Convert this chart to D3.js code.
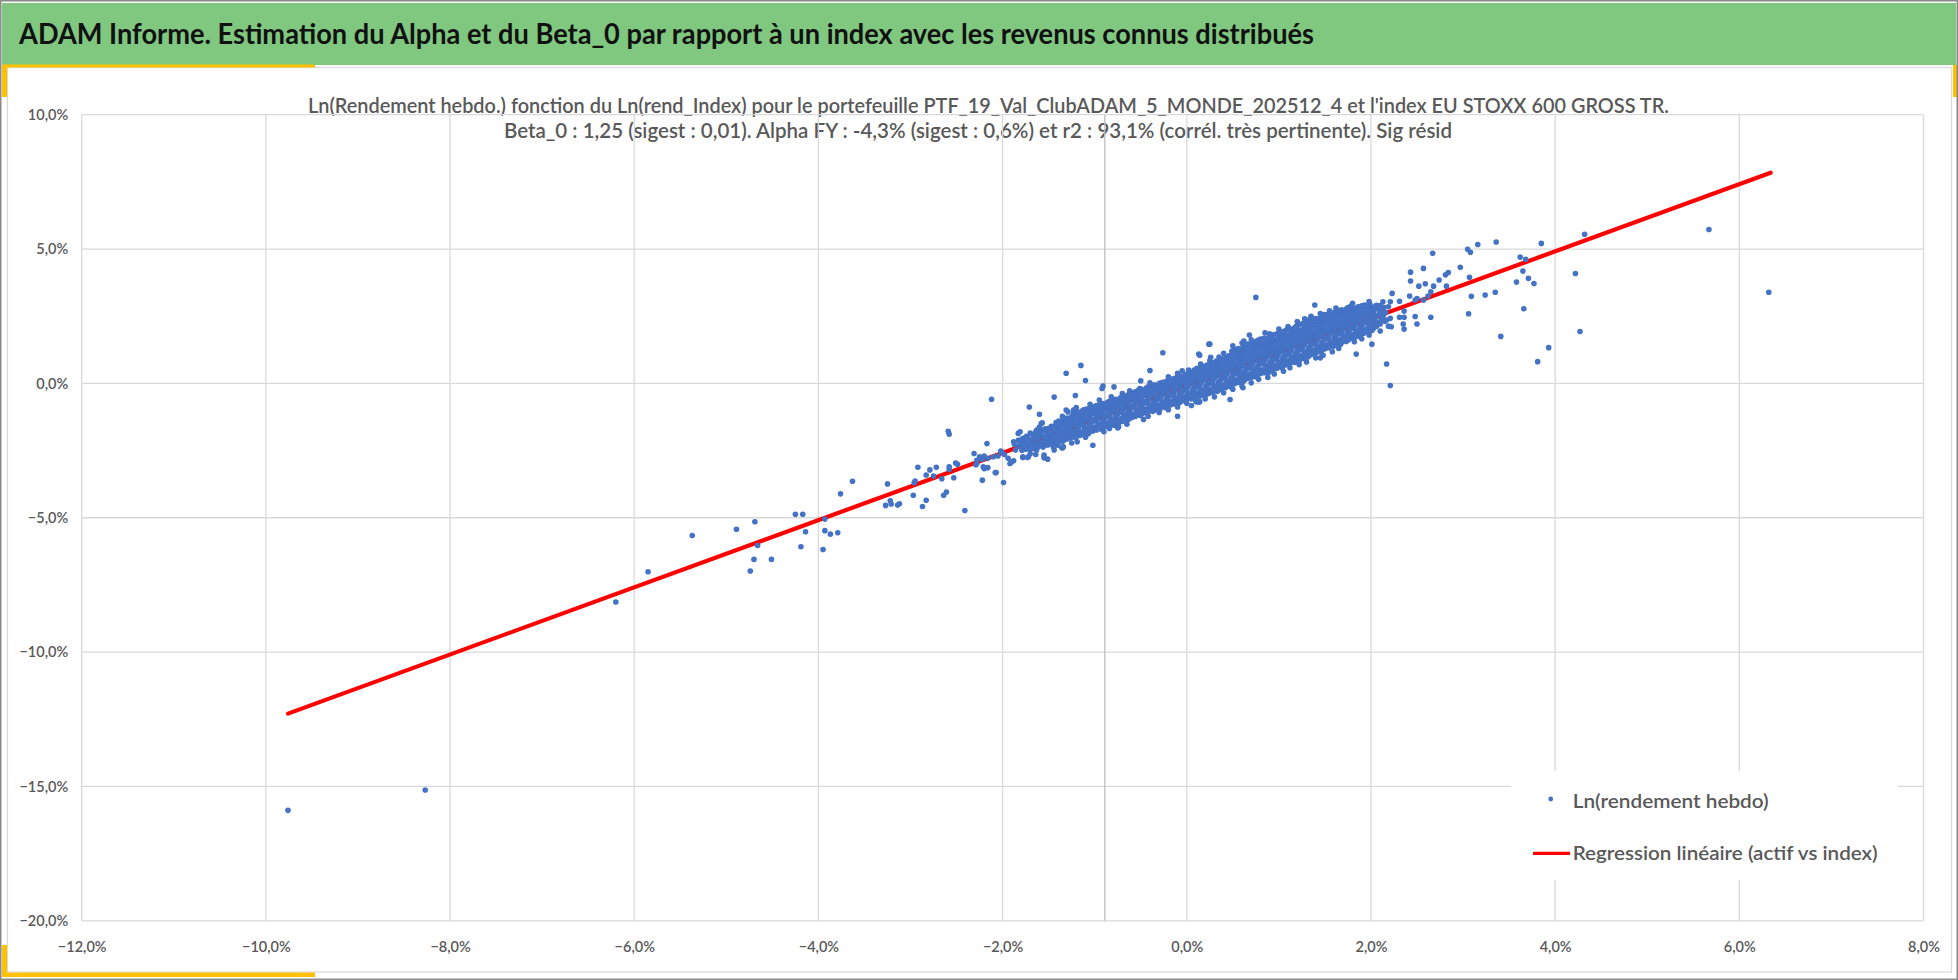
<!DOCTYPE html>
<html>
<head>
<meta charset="utf-8">
<script src="https://cdn.jsdelivr.net/npm/d3@7"></script>
<style>
  body { margin: 0; background: #fff; }
  svg { display: block; font-family: Lato, "Open Sans", sans-serif; }
</style>
</head>
<body>
<div id="chart"></div>
<script>
// Texte
const pageTitle = "ADAM Informe. Estimation du Alpha et du Beta_0 par rapport à un index avec les revenus connus distribués";
const chartTitle1 = "Ln(Rendement hebdo.) fonction du Ln(rend_Index) pour le portefeuille PTF_19_Val_ClubADAM_5_MONDE_202512_4 et l'index EU STOXX 600 GROSS TR.";
const chartTitle2 = "Beta_0 : 1,25 (sigest : 0,01). Alpha FY : -4,3% (sigest : 0,6%) et r2 : 93,1% (corrél. très pertinente). Sig résid";
const legendLabels = ["Ln(rendement hebdo)", "Regression linéaire (actif vs index)"];

// Axes (en %)
const xTicks = [-12, -10, -8, -6, -4, -2, 0, 2, 4, 6, 8];
const yTicks = [-20, -15, -10, -5, 0, 5, 10];
const axisCrossX = -0.89; // ligne de l'axe vertical

// Droite de régression (extrémités)
const regressionX = [-9.76, 6.34];
const regressionY = [-12.29, 7.84];

// Points isolés [ln(rend_index) %, ln(rend hebdo) %]
const outlierPoints = [
  [-9.76,-15.89],[-8.27,-15.13],
  [-6.20,-8.14],[-5.85,-7.01],[-5.37,-5.66],[-4.89,-5.43],[-4.69,-5.15],[-4.66,-6.03],[-4.70,-6.55],[-4.74,-6.98],
  [-4.51,-6.55],[-4.25,-4.87],[-4.17,-4.87],[-4.14,-5.52],[-4.19,-6.08],[-3.93,-5.05],[-3.93,-5.48],[-3.87,-5.61],
  [-3.79,-5.56],[-3.95,-6.18],[-3.76,-4.11],[-3.63,-3.64],[-3.25,-3.74],[-3.27,-4.54],[-3.22,-4.37],[-3.21,-4.49],
  [-3.14,-4.53],[-3.12,-4.48],[-2.97,-4.16],[-2.96,-3.70],[-2.95,-3.63],[-2.92,-3.12],[-2.87,-4.58],[-2.83,-4.35],
  [-2.83,-3.41],[-2.79,-3.22],[-2.75,-3.45],[-2.72,-3.12],[-2.66,-3.55],[-2.64,-4.16],[-2.61,-4.04],[-2.58,-3.10],
  [-2.58,-3.20],[-2.53,-3.51],[-2.51,-2.96],[-2.49,-3.01],[-2.41,-4.73],[-2.29,-3.03],[-2.22,-3.60],[-2.20,-3.17],
  [-2.16,-3.13],[-2.08,-3.32],[-1.99,-3.69],[-1.92,-2.98],[-1.88,-2.88],
  [-2.12,-0.59],[-2.59,-1.78],[-2.58,-1.89],[-1.58,-1.49],[-2.17,-2.24],[-2.31,-2.61],[-2.25,-2.73],[-2.22,-2.82],
  [-2.20,-2.70],[-2.16,-2.79],[-2.10,-2.73],[-2.05,-2.70],[-2.02,-2.52],[-1.98,-2.65],[-1.94,-2.79],[-1.90,-2.92],
  [-2.28,-2.98],[-2.21,-3.10],[-2.17,-3.14],[-2.28,-2.86],[-2.07,-3.32],[-1.79,-2.07],[-1.78,-2.30],[-1.72,-2.24],
  [-1.67,-2.30],[-1.63,-2.48],[-1.78,-2.73],[-1.72,-2.73],[-1.64,-2.65],[-1.55,-2.77],[-1.60,-1.93],[-1.52,-2.03],
  [-1.49,-1.80],[-1.47,-2.11],[-1.45,-2.36],[-1.35,-2.40],[-1.38,-1.74],[-1.32,-1.68],[-1.29,-1.86],[-1.23,-1.80],
  [-1.27,-1.53],[-1.19,-1.62],[-1.31,-0.99],[-1.23,-0.99],[-1.30,-1.31],[-1.41,-1.99],[-1.40,-2.17],[-1.51,-2.17],
  [-1.31,0.38],[-1.15,0.67],[-1.10,0.11],[-1.44,-0.51],[-1.21,-0.45],[-1.71,-0.88],[-1.60,-1.15],[-0.91,-0.10],
  [-0.92,-0.19],[-0.79,-0.13],[-0.26,1.14],[-0.40,0.48],[-0.50,0.10],[0.13,1.09],[0.24,1.46],[0.26,0.97],
  [0.61,-0.16],[0.47,-0.60],[-0.10,-1.22],[-0.47,-1.34],[0.13,-0.70],[0.05,-0.82],[1.67,1.46],[1.84,1.09],
  [2.01,1.46],[2.17,0.72],[2.21,-0.08],[1.45,0.95],[1.51,1.34],[-1.02,-2.30],[-1.78,-2.76],[-1.73,-2.76],
  [-1.51,-2.82],[-1.55,-2.67],[-1.36,-2.38],[-1.44,-2.48],[-1.19,-2.17],[-1.83,-1.86],[-1.88,-2.17],[-2.01,-2.55],
  [-0.51,-0.19],[-1.57,-1.47],[-1.29,-1.06],[-0.74,-1.61],[-0.84,-1.68],[-1.34,-2.36],[-1.76,-2.17],[-1.63,-1.74],
  [-1.81,-1.80],[0.27,-0.31],[0.14,-0.68],
  [0.75,3.20],[0.25,1.46],[0.68,1.80],[1.39,2.92],[1.34,2.42],[1.84,2.73],[2.21,2.42],[1.53,1.39],
  [1.22,0.83],[1.00,0.77],[1.08,0.78],[0.88,0.37],[0.74,0.25],[0.59,0.31],[0.92,0.68],[0.14,1.05],
  [5.67,5.73],[6.32,3.39],[4.32,5.55],[4.22,4.09],[4.27,1.93],[3.93,1.33],[3.81,0.81],[3.85,5.21],
  [3.62,4.70],[3.68,4.62],[3.65,4.18],[3.71,3.91],[3.77,3.72],[3.58,3.77],[3.66,2.78],[3.41,1.75],
  [3.36,5.26],[3.16,5.17],[3.05,4.99],[3.08,4.88],[2.97,4.32],[3.07,3.95],[3.09,3.24],[3.24,3.29],
  [3.35,3.39],[3.06,2.59],[2.67,4.84],[2.57,4.28],[2.43,4.14],[2.43,3.81],[2.59,3.71],[2.52,3.62],
  [2.74,3.85],[2.81,4.04],[2.84,4.13],[2.82,3.62],[2.68,3.62],[2.65,3.41],[2.62,3.25],[2.42,3.25],
  [2.50,3.16],[2.48,3.10],[2.57,3.10],[2.31,3.06],[2.23,3.35],[2.21,3.04],[2.13,3.04],[2.19,2.85],
  [2.15,2.61],[2.36,2.69],[2.31,2.46],[2.36,2.46],[2.48,2.49],[2.65,2.46],[2.35,2.21],[2.50,2.21],
  [2.36,2.02],[2.17,2.36],[2.19,2.13],[2.22,2.11],[2.10,1.95]
];

// Nuage dense autour de la droite
const corePoints = [
  [-1.86,-2.48],[-1.87,-2.27],[-1.83,-2.12],
  [-1.79,-2.49],[-1.76,-2.36],[-1.80,-2.20],[-1.77,-2.03],
  [-1.70,-2.47],[-1.72,-2.30],[-1.69,-2.16],[-1.73,-2.01],[-1.70,-1.85],
  [-1.65,-2.43],[-1.62,-2.26],[-1.66,-2.12],[-1.63,-1.96],[-1.64,-1.81],
  [-1.56,-2.37],[-1.58,-2.21],[-1.55,-2.04],[-1.59,-1.89],[-1.57,-1.75],
  [-1.51,-2.29],[-1.49,-2.15],[-1.52,-1.99],[-1.48,-1.83],[-1.50,-1.67],
  [-1.44,-2.23],[-1.42,-2.05],[-1.45,-1.92],[-1.41,-1.76],[-1.43,-1.59],[-1.42,-1.46],
  [-1.35,-2.16],[-1.37,-1.98],[-1.34,-1.84],[-1.38,-1.66],[-1.36,-1.52],[-1.35,-1.38],
  [-1.30,-2.07],[-1.28,-1.93],[-1.31,-1.75],[-1.27,-1.61],[-1.29,-1.45],[-1.30,-1.29],
  [-1.21,-2.01],[-1.23,-1.87],[-1.20,-1.71],[-1.24,-1.53],[-1.22,-1.39],[-1.21,-1.23],[-1.23,-1.11],
  [-1.16,-1.94],[-1.14,-1.80],[-1.17,-1.62],[-1.13,-1.48],[-1.15,-1.32],[-1.16,-1.16],[-1.14,-1.03],
  [-1.07,-1.87],[-1.09,-1.69],[-1.06,-1.55],[-1.10,-1.37],[-1.08,-1.23],[-1.07,-1.06],[-1.09,-0.95],
  [-1.02,-1.77],[-1.00,-1.63],[-1.03,-1.45],[-0.99,-1.31],[-1.01,-1.13],[-1.02,-0.99],[-1.00,-0.86],
  [-0.93,-1.71],[-0.95,-1.53],[-0.92,-1.39],[-0.96,-1.21],[-0.94,-1.07],[-0.93,-0.90],[-0.95,-0.80],
  [-0.88,-1.61],[-0.86,-1.47],[-0.89,-1.29],[-0.85,-1.15],[-0.87,-0.97],[-0.88,-0.84],[-0.86,-0.70],
  [-0.79,-1.56],[-0.81,-1.38],[-0.78,-1.24],[-0.82,-1.06],[-0.80,-0.92],[-0.79,-0.74],[-0.81,-0.64],
  [-0.74,-1.46],[-0.72,-1.32],[-0.75,-1.14],[-0.71,-1.00],[-0.73,-0.82],[-0.74,-0.68],[-0.72,-0.54],
  [-0.65,-1.39],[-0.67,-1.21],[-0.64,-1.07],[-0.68,-0.89],[-0.66,-0.75],[-0.65,-0.57],[-0.67,-0.47],
  [-0.60,-1.28],[-0.58,-1.14],[-0.61,-0.96],[-0.57,-0.82],[-0.59,-0.64],[-0.60,-0.50],[-0.58,-0.35],
  [-0.51,-1.19],[-0.53,-1.02],[-0.50,-0.88],[-0.54,-0.70],[-0.52,-0.56],[-0.51,-0.39],[-0.53,-0.27],
  [-0.46,-1.09],[-0.44,-0.95],[-0.47,-0.77],[-0.43,-0.63],[-0.45,-0.45],[-0.46,-0.32],[-0.44,-0.17],
  [-0.37,-1.04],[-0.39,-0.86],[-0.36,-0.72],[-0.40,-0.54],[-0.38,-0.40],[-0.37,-0.22],[-0.39,-0.10],
  [-0.32,-0.95],[-0.30,-0.81],[-0.33,-0.63],[-0.29,-0.49],[-0.31,-0.31],[-0.32,-0.17],[-0.30,-0.01],
  [-0.23,-0.90],[-0.25,-0.72],[-0.22,-0.58],[-0.26,-0.40],[-0.24,-0.26],[-0.23,-0.08],[-0.25,0.05],
  [-0.18,-0.80],[-0.16,-0.66],[-0.19,-0.48],[-0.15,-0.34],[-0.17,-0.16],[-0.18,-0.02],[-0.16,0.15],
  [-0.09,-0.74],[-0.11,-0.56],[-0.08,-0.42],[-0.12,-0.24],[-0.10,-0.10],[-0.09,0.08],[-0.11,0.22],
  [-0.04,-0.64],[-0.02,-0.50],[-0.05,-0.32],[-0.01,-0.18],[-0.03,0.00],[-0.04,0.14],[-0.02,0.32],
  [0.05,-0.58],[0.03,-0.40],[0.06,-0.26],[0.02,-0.08],[0.04,0.06],[0.05,0.24],[0.03,0.38],
  [0.10,-0.50],[0.12,-0.36],[0.09,-0.18],[0.13,-0.04],[0.11,0.14],[0.10,0.28],[0.12,0.46],[0.11,0.56],
  [0.19,-0.46],[0.17,-0.28],[0.20,-0.14],[0.16,0.04],[0.18,0.18],[0.19,0.36],[0.17,0.50],[0.18,0.64],
  [0.24,-0.37],[0.26,-0.23],[0.23,-0.05],[0.27,0.09],[0.25,0.27],[0.24,0.41],[0.26,0.59],[0.25,0.71],
  [0.33,-0.30],[0.31,-0.12],[0.34,0.02],[0.30,0.20],[0.32,0.34],[0.33,0.52],[0.31,0.66],[0.32,0.83],
  [0.38,-0.19],[0.40,-0.05],[0.37,0.13],[0.41,0.27],[0.39,0.45],[0.38,0.59],[0.40,0.77],[0.39,0.92],
  [0.47,-0.12],[0.45,0.06],[0.48,0.20],[0.44,0.38],[0.46,0.52],[0.47,0.70],[0.45,0.84],[0.46,1.04],
  [0.52,-0.01],[0.54,0.13],[0.51,0.31],[0.55,0.45],[0.53,0.63],[0.52,0.77],[0.54,0.95],[0.53,1.11],[0.52,1.27],
  [0.61,0.07],[0.59,0.25],[0.62,0.39],[0.58,0.57],[0.60,0.71],[0.61,0.89],[0.59,1.03],[0.60,1.21],[0.61,1.34],
  [0.66,0.19],[0.68,0.33],[0.65,0.51],[0.69,0.65],[0.67,0.83],[0.66,0.97],[0.68,1.15],[0.67,1.29],[0.66,1.46],
  [0.75,0.27],[0.73,0.45],[0.76,0.59],[0.72,0.77],[0.74,0.91],[0.75,1.09],[0.73,1.23],[0.74,1.41],[0.75,1.55],
  [0.80,0.37],[0.82,0.51],[0.79,0.69],[0.83,0.83],[0.81,1.01],[0.80,1.15],[0.82,1.33],[0.81,1.47],[0.80,1.65],
  [0.89,0.42],[0.87,0.60],[0.90,0.74],[0.86,0.92],[0.88,1.06],[0.89,1.24],[0.87,1.38],[0.88,1.56],[0.89,1.70],
  [0.94,0.52],[0.96,0.66],[0.93,0.84],[0.97,0.98],[0.95,1.16],[0.94,1.30],[0.96,1.48],[0.95,1.62],[0.94,1.81],
  [1.03,0.59],[1.01,0.77],[1.04,0.91],[1.00,1.09],[1.02,1.23],[1.03,1.41],[1.01,1.55],[1.02,1.73],[1.03,1.88],
  [1.08,0.70],[1.10,0.84],[1.07,1.02],[1.11,1.16],[1.09,1.34],[1.08,1.48],[1.10,1.66],[1.09,1.80],[1.08,1.99],
  [1.17,0.78],[1.15,0.96],[1.18,1.10],[1.14,1.28],[1.16,1.42],[1.17,1.60],[1.15,1.74],[1.16,1.92],[1.17,2.07],
  [1.22,0.89],[1.24,1.03],[1.21,1.21],[1.25,1.35],[1.23,1.53],[1.22,1.67],[1.24,1.85],[1.23,1.99],[1.22,2.19],
  [1.31,0.97],[1.29,1.15],[1.32,1.29],[1.28,1.47],[1.30,1.61],[1.31,1.79],[1.29,1.93],[1.30,2.11],[1.31,2.27],
  [1.36,1.09],[1.38,1.23],[1.35,1.41],[1.39,1.55],[1.37,1.73],[1.36,1.87],[1.38,2.05],[1.37,2.19],[1.36,2.38],
  [1.45,1.17],[1.43,1.35],[1.46,1.49],[1.42,1.67],[1.44,1.81],[1.45,1.99],[1.43,2.13],[1.44,2.31],[1.45,2.45],
  [1.50,1.29],[1.52,1.43],[1.49,1.61],[1.53,1.75],[1.51,1.93],[1.50,2.07],[1.52,2.25],[1.51,2.39],[1.50,2.56],
  [1.59,1.37],[1.57,1.55],[1.60,1.69],[1.56,1.87],[1.58,2.01],[1.59,2.19],[1.57,2.33],[1.58,2.51],[1.59,2.61],
  [1.64,1.48],[1.66,1.62],[1.63,1.80],[1.67,1.94],[1.65,2.12],[1.64,2.26],[1.66,2.44],[1.65,2.57],[1.64,2.71],
  [1.73,1.56],[1.71,1.74],[1.74,1.88],[1.70,2.06],[1.72,2.20],[1.73,2.38],[1.71,2.52],[1.72,2.69],[1.73,2.77],
  [1.78,1.67],[1.80,1.81],[1.77,1.99],[1.81,2.13],[1.79,2.31],[1.78,2.45],[1.80,2.63],[1.79,2.75],[1.78,2.87],
  [1.87,1.75],[1.85,1.93],[1.88,2.07],[1.84,2.25],[1.86,2.39],[1.87,2.57],[1.85,2.71],[1.86,2.85],
  [1.92,1.87],[1.94,2.01],[1.91,2.19],[1.95,2.33],[1.93,2.51],[1.92,2.65],[1.94,2.83],[1.93,2.92],
  [2.01,1.97],[1.99,2.15],[2.02,2.29],[1.98,2.47],[2.00,2.61],[2.01,2.79],[1.99,2.93],
  [2.06,2.13],[2.08,2.27],[2.05,2.45],[2.09,2.59],[2.07,2.77],[2.06,2.91],
  [2.15,2.31],[2.13,2.49],[2.16,2.65],[2.14,2.83]
];

// Points intercalés dans le nuage dense
const coreFill = [
  [-1.82,-2.34],[-1.81,-2.18],
  [-1.75,-2.45],[-1.74,-2.29],[-1.75,-2.13],[-1.74,-1.97],
  [-1.68,-2.41],[-1.67,-2.26],[-1.68,-2.09],[-1.67,-1.92],
  [-1.61,-2.36],[-1.60,-2.20],[-1.61,-2.04],[-1.60,-1.88],[-1.61,-1.76],
  [-1.54,-2.30],[-1.53,-2.14],[-1.54,-1.98],[-1.53,-1.82],[-1.54,-1.69],
  [-1.47,-2.24],[-1.46,-2.08],[-1.47,-1.92],[-1.46,-1.76],[-1.47,-1.60],
  [-1.40,-2.17],[-1.39,-2.01],[-1.40,-1.85],[-1.39,-1.69],[-1.40,-1.53],[-1.39,-1.40],
  [-1.33,-2.10],[-1.32,-1.94],[-1.33,-1.78],[-1.32,-1.62],[-1.33,-1.46],[-1.32,-1.32],
  [-1.26,-2.03],[-1.25,-1.87],[-1.26,-1.71],[-1.25,-1.55],[-1.26,-1.39],[-1.25,-1.23],
  [-1.19,-1.96],[-1.18,-1.80],[-1.19,-1.64],[-1.18,-1.48],[-1.19,-1.32],[-1.18,-1.16],[-1.19,-1.06],
  [-1.12,-1.88],[-1.11,-1.72],[-1.12,-1.56],[-1.11,-1.40],[-1.12,-1.24],[-1.11,-1.09],[-1.12,-0.98],
  [-1.05,-1.80],[-1.04,-1.64],[-1.05,-1.48],[-1.04,-1.32],[-1.05,-1.16],[-1.04,-1.01],[-1.05,-0.90],
  [-0.98,-1.73],[-0.97,-1.57],[-0.98,-1.41],[-0.97,-1.25],[-0.98,-1.09],[-0.97,-0.94],[-0.98,-0.82],
  [-0.91,-1.65],[-0.90,-1.49],[-0.91,-1.33],[-0.90,-1.17],[-0.91,-1.01],[-0.90,-0.86],[-0.91,-0.75],
  [-0.84,-1.57],[-0.83,-1.41],[-0.84,-1.25],[-0.83,-1.09],[-0.84,-0.93],[-0.83,-0.78],[-0.84,-0.67],
  [-0.77,-1.50],[-0.76,-1.34],[-0.77,-1.18],[-0.76,-1.02],[-0.77,-0.86],[-0.76,-0.70],[-0.77,-0.59],
  [-0.70,-1.42],[-0.69,-1.26],[-0.70,-1.10],[-0.69,-0.94],[-0.70,-0.78],[-0.69,-0.62],[-0.70,-0.50],
  [-0.63,-1.33],[-0.62,-1.17],[-0.63,-1.01],[-0.62,-0.85],[-0.63,-0.69],[-0.62,-0.53],[-0.63,-0.41],
  [-0.56,-1.23],[-0.55,-1.07],[-0.56,-0.91],[-0.55,-0.75],[-0.56,-0.59],[-0.55,-0.44],[-0.56,-0.31],
  [-0.49,-1.14],[-0.48,-0.98],[-0.49,-0.82],[-0.48,-0.66],[-0.49,-0.50],[-0.48,-0.35],[-0.49,-0.22],
  [-0.42,-1.06],[-0.41,-0.90],[-0.42,-0.74],[-0.41,-0.58],[-0.42,-0.42],[-0.41,-0.27],[-0.42,-0.13],
  [-0.35,-0.99],[-0.34,-0.83],[-0.35,-0.67],[-0.34,-0.51],[-0.35,-0.35],[-0.34,-0.19],[-0.35,-0.05],
  [-0.28,-0.92],[-0.27,-0.76],[-0.28,-0.60],[-0.27,-0.44],[-0.28,-0.28],[-0.27,-0.12],[-0.28,0.02],
  [-0.21,-0.85],[-0.20,-0.69],[-0.21,-0.53],[-0.20,-0.37],[-0.21,-0.21],[-0.20,-0.05],[-0.21,0.10],
  [-0.14,-0.77],[-0.13,-0.61],[-0.14,-0.45],[-0.13,-0.29],[-0.14,-0.13],[-0.13,0.03],[-0.14,0.18],
  [-0.07,-0.69],[-0.06,-0.53],[-0.07,-0.37],[-0.06,-0.21],[-0.07,-0.05],[-0.06,0.11],[-0.07,0.27],
  [0.00,-0.61],[0.01,-0.45],[0.00,-0.29],[0.01,-0.13],[0.00,0.03],[0.01,0.19],[0.00,0.35],
  [0.07,-0.54],[0.08,-0.38],[0.07,-0.22],[0.08,-0.06],[0.07,0.10],[0.08,0.26],[0.07,0.42],[0.08,0.50],
  [0.14,-0.48],[0.15,-0.32],[0.14,-0.16],[0.15,0.00],[0.14,0.16],[0.15,0.32],[0.14,0.48],[0.15,0.60],
  [0.21,-0.42],[0.22,-0.26],[0.21,-0.10],[0.22,0.06],[0.21,0.22],[0.22,0.38],[0.21,0.54],[0.22,0.68],
  [0.28,-0.33],[0.29,-0.17],[0.28,-0.01],[0.29,0.15],[0.28,0.31],[0.29,0.47],[0.28,0.63],[0.29,0.77],
  [0.35,-0.25],[0.36,-0.09],[0.35,0.07],[0.36,0.23],[0.35,0.39],[0.36,0.55],[0.35,0.71],[0.36,0.88],
  [0.42,-0.16],[0.43,0.00],[0.42,0.16],[0.43,0.32],[0.42,0.48],[0.43,0.64],[0.42,0.80],[0.43,0.97],
  [0.49,-0.07],[0.50,0.09],[0.49,0.25],[0.50,0.41],[0.49,0.57],[0.50,0.73],[0.49,0.89],[0.50,1.07],[0.49,1.20],
  [0.56,0.03],[0.57,0.19],[0.56,0.35],[0.57,0.51],[0.56,0.67],[0.57,0.83],[0.56,0.99],[0.57,1.16],[0.56,1.30],
  [0.63,0.13],[0.64,0.29],[0.63,0.45],[0.64,0.61],[0.63,0.77],[0.64,0.93],[0.63,1.09],[0.64,1.25],[0.63,1.40],
  [0.70,0.23],[0.71,0.39],[0.70,0.55],[0.71,0.71],[0.70,0.87],[0.71,1.03],[0.70,1.19],[0.71,1.35],[0.70,1.50],
  [0.77,0.32],[0.78,0.48],[0.77,0.64],[0.78,0.80],[0.77,0.96],[0.78,1.12],[0.77,1.28],[0.78,1.44],[0.77,1.60],
  [0.84,0.40],[0.85,0.56],[0.84,0.72],[0.85,0.88],[0.84,1.04],[0.85,1.20],[0.84,1.36],[0.85,1.52],[0.84,1.68],
  [0.91,0.47],[0.92,0.63],[0.91,0.79],[0.92,0.95],[0.91,1.11],[0.92,1.27],[0.91,1.43],[0.92,1.59],[0.91,1.75],
  [0.98,0.56],[0.99,0.72],[0.98,0.88],[0.99,1.04],[0.98,1.20],[0.99,1.36],[0.98,1.52],[0.99,1.68],[0.98,1.85],
  [1.05,0.65],[1.06,0.81],[1.05,0.97],[1.06,1.13],[1.05,1.29],[1.06,1.45],[1.05,1.61],[1.06,1.77],[1.05,1.93],
  [1.12,0.74],[1.13,0.90],[1.12,1.06],[1.13,1.22],[1.12,1.38],[1.13,1.54],[1.12,1.70],[1.13,1.86],[1.12,2.03],
  [1.19,0.84],[1.20,1.00],[1.19,1.16],[1.20,1.32],[1.19,1.48],[1.20,1.64],[1.19,1.80],[1.20,1.96],[1.19,2.13],
  [1.26,0.93],[1.27,1.09],[1.26,1.25],[1.27,1.41],[1.26,1.57],[1.27,1.73],[1.26,1.89],[1.27,2.05],[1.26,2.23],
  [1.33,1.03],[1.34,1.19],[1.33,1.35],[1.34,1.51],[1.33,1.67],[1.34,1.83],[1.33,1.99],[1.34,2.15],[1.33,2.32],
  [1.40,1.13],[1.41,1.29],[1.40,1.45],[1.41,1.61],[1.40,1.77],[1.41,1.93],[1.40,2.09],[1.41,2.25],[1.40,2.41],
  [1.47,1.23],[1.48,1.39],[1.47,1.55],[1.48,1.71],[1.47,1.87],[1.48,2.03],[1.47,2.19],[1.48,2.35],[1.47,2.50],
  [1.54,1.33],[1.55,1.49],[1.54,1.65],[1.55,1.81],[1.54,1.97],[1.55,2.13],[1.54,2.29],[1.55,2.45],[1.54,2.58],
  [1.61,1.42],[1.62,1.58],[1.61,1.74],[1.62,1.90],[1.61,2.06],[1.62,2.22],[1.61,2.38],[1.62,2.54],[1.61,2.66],
  [1.68,1.52],[1.69,1.68],[1.68,1.84],[1.69,2.00],[1.68,2.16],[1.69,2.32],[1.68,2.48],[1.69,2.63],[1.68,2.74],
  [1.75,1.61],[1.76,1.77],[1.75,1.93],[1.76,2.09],[1.75,2.25],[1.76,2.41],[1.75,2.57],[1.76,2.72],[1.75,2.82],
  [1.82,1.71],[1.83,1.87],[1.82,2.03],[1.83,2.19],[1.82,2.35],[1.83,2.51],[1.82,2.67],[1.83,2.80],
  [1.89,1.81],[1.90,1.97],[1.89,2.13],[1.90,2.29],[1.89,2.45],[1.90,2.61],[1.89,2.77],[1.90,2.89],
  [1.96,1.92],[1.97,2.08],[1.96,2.24],[1.97,2.40],[1.96,2.56],[1.97,2.72],[1.96,2.88],
  [2.03,2.05],[2.04,2.21],[2.03,2.37],[2.04,2.53],[2.03,2.69],[2.04,2.85],
  [2.10,2.21],[2.11,2.38],[2.10,2.56],[2.11,2.74],[2.10,2.90]
];

// Points en bordure du nuage
const fringePoints = [
  [-1.60,-1.62],[-1.35,-1.22],[-1.05,-0.78],[-0.82,-0.50],[-0.62,-0.28],[-0.40,0.02],[-0.20,0.25],[0.02,0.50],
  [0.15,0.72],[0.35,0.98],[0.50,1.40],[0.70,1.62],[0.90,1.85],[1.10,2.12],[1.28,2.40],[1.45,2.60],[1.62,2.80],
  [1.80,2.98],[1.98,3.05],[0.85,1.88],[0.60,1.50],[0.40,1.12],[-0.05,0.47],[1.20,2.30],[1.55,2.70],
  [-1.70,-2.62],[-1.40,-2.30],[-1.10,-2.00],[-0.90,-1.80],[-0.65,-1.52],[-0.42,-1.22],[-0.20,-0.98],[0.00,-0.74],
  [0.20,-0.58],[0.40,-0.35],[0.60,-0.10],[0.78,0.15],[0.95,0.35],[1.12,0.58],[1.30,0.80],[1.48,1.05],[1.65,1.30],
  [1.82,1.55],[1.98,1.80],[0.30,-0.50],[0.70,0.02],[1.05,0.45],[1.40,0.95],[-0.30,-1.08],[0.50,-0.22],
  [-1.20,-0.90],[-0.95,-0.62],[-0.70,-0.38],[-0.10,0.38],[0.25,0.85],[0.62,1.58],[1.00,2.02],[1.35,2.50],
  [-1.25,-2.22],[-0.75,-1.66],[-0.10,-0.88],[0.10,-0.68],[0.88,0.22],[1.22,0.70],[1.58,1.18],[1.90,1.66]
];

const W = 1958, H = 980;
const plot = { left: 81.7, right: 1923.5, top: 114.7, bottom: 920.8 };
const textGray = "#595959";
const gridGray = "#d9d9d9";
const blue = "#4472c4";

const fr = d3.formatLocale({ decimal: ",", thousands: " ", grouping: [3], currency: ["", "€"] });
const pct = d => fr.format(".1f")(d) + "%";

const svg = d3.select("#chart").append("svg")
  .attr("width", W)
  .attr("height", H);

// Cadre et bandeau
svg.append("rect").attr("x", 0).attr("y", 0).attr("width", W).attr("height", H).attr("fill", "#fff");
svg.append("rect").attr("x", 2).attr("y", 3).attr("width", W - 4).attr("height", 62).attr("fill", "#80c880");
svg.append("rect").attr("x", 7.5).attr("y", 67.5).attr("width", 1944).attr("height", 904.5)
  .attr("fill", "none").attr("stroke", gridGray).attr("stroke-width", 1.2);

// Coins jaunes
const gold = "#ffc000";
[[2, 64.5, 313, 3], [2, 65, 5, 32], [2, 972.5, 313, 4.5], [2, 945, 5, 32], [1953, 65, 4, 32]]
  .forEach(r => svg.append("rect").attr("x", r[0]).attr("y", r[1]).attr("width", r[2]).attr("height", r[3]).attr("fill", gold));

svg.append("rect").attr("x", 0.75).attr("y", 0.75).attr("width", W - 1.5).attr("height", H - 1.5)
  .attr("fill", "none").attr("stroke", "#8a8a8a").attr("stroke-width", 1.5);

svg.append("text")
  .attr("x", 19).attr("y", 44)
  .attr("textLength", 1295).attr("lengthAdjust", "spacingAndGlyphs")
  .style("font-size", "28px").style("font-weight", "bold").style("fill", "#111")
  .text(pageTitle);

// Titre du graphique
svg.append("text")
  .attr("x", 308).attr("y", 112.5)
  .attr("textLength", 1361).attr("lengthAdjust", "spacingAndGlyphs")
  .style("font-size", "21px").style("font-weight", 600).style("fill", textGray)
  .text(chartTitle1);
svg.append("text")
  .attr("x", 504).attr("y", 137.5)
  .attr("textLength", 948).attr("lengthAdjust", "spacingAndGlyphs")
  .style("font-size", "21px").style("font-weight", 600).style("fill", textGray)
  .text(chartTitle2);

// Échelles
const x = d3.scaleLinear().domain([-12, 8]).range([plot.left, plot.right]);
const y = d3.scaleLinear().domain([-20, 10]).range([plot.bottom, plot.top]);

// Quadrillage
svg.append("g").selectAll("line").data(xTicks).enter().append("line")
  .attr("x1", d => x(d)).attr("x2", d => x(d))
  .attr("y1", plot.top).attr("y2", plot.bottom)
  .attr("stroke", gridGray).attr("stroke-width", 1.3);
svg.append("g").selectAll("line").data(yTicks).enter().append("line")
  .attr("x1", plot.left).attr("x2", plot.right)
  .attr("y1", d => y(d)).attr("y2", d => y(d))
  .attr("stroke", gridGray).attr("stroke-width", 1.3);

// Ligne de l'axe vertical
svg.append("line")
  .attr("x1", x(axisCrossX)).attr("x2", x(axisCrossX))
  .attr("y1", plot.top).attr("y2", plot.bottom)
  .attr("stroke", "#bfbfbf").attr("stroke-width", 1.3);

// Axes (étiquettes)
const xAxis = svg.append("g")
  .attr("transform", `translate(0,${plot.bottom})`)
  .call(d3.axisBottom(x).tickValues(xTicks).tickFormat(pct).tickSize(0).tickPadding(21));
const yAxis = svg.append("g")
  .attr("transform", `translate(${plot.left},0)`)
  .call(d3.axisLeft(y).tickValues(yTicks).tickFormat(pct).tickSize(0).tickPadding(13.5));
[xAxis, yAxis].forEach(a => {
  a.select(".domain").remove();
  a.selectAll("text")
    .style("font-family", "Lato, 'Open Sans', sans-serif")
    .style("font-size", "14.5px")
    .style("font-weight", 600)
    .style("fill", textGray);
});

// Droite de régression
const regLine = d3.line().x(d => x(d[0])).y(d => y(d[1]));
svg.append("path")
  .datum(regressionX.map((v, i) => [v, regressionY[i]]))
  .attr("d", regLine)
  .attr("fill", "none")
  .attr("stroke", "#ff0000")
  .attr("stroke-width", 4.2)
  .attr("stroke-linecap", "round");

// Points
const allPoints = corePoints.concat(coreFill, fringePoints, outlierPoints);
svg.append("g").selectAll("circle").data(allPoints).enter().append("circle")
  .attr("cx", d => x(d[0]))
  .attr("cy", d => y(d[1]))
  .attr("r", 2.8)
  .attr("fill", blue);

// Légende
const legend = svg.append("g");
legend.append("rect")
  .attr("x", 1511).attr("y", 771).attr("width", 387).attr("height", 109)
  .attr("fill", "#fff");
legend.append("circle").attr("cx", 1550.7).attr("cy", 799).attr("r", 2.4).attr("fill", blue);
legend.append("line").attr("x1", 1533).attr("x2", 1570).attr("y1", 853.3).attr("y2", 853.3)
  .attr("stroke", "#ff0000").attr("stroke-width", 3.2);
legend.append("text")
  .attr("x", 1572.7).attr("y", 808)
  .attr("textLength", 196).attr("lengthAdjust", "spacingAndGlyphs")
  .style("font-size", "20px").style("font-weight", 600).style("fill", textGray)
  .text(legendLabels[0]);
legend.append("text")
  .attr("x", 1572.7).attr("y", 860)
  .attr("textLength", 305).attr("lengthAdjust", "spacingAndGlyphs")
  .style("font-size", "20px").style("font-weight", 600).style("fill", textGray)
  .text(legendLabels[1]);
</script>
</body>
</html>
